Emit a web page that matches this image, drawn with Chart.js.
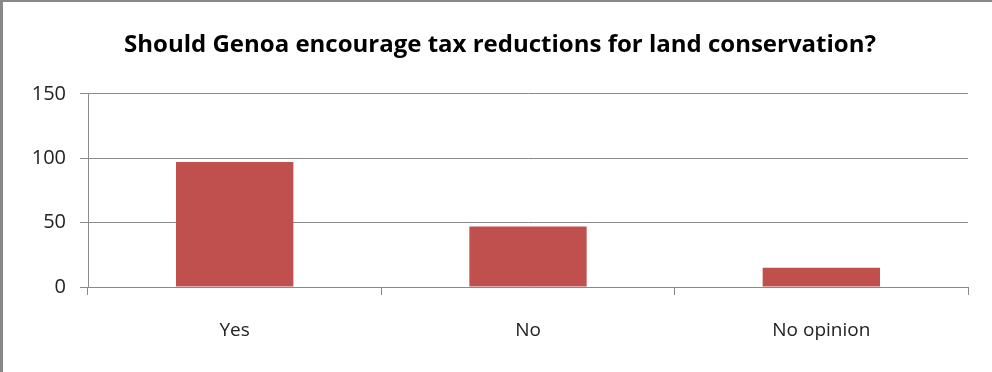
<!DOCTYPE html>
<html>
<head>
<meta charset="utf-8">
<script src="https://cdn.jsdelivr.net/npm/chart.js@4/dist/chart.umd.min.js"></script>
<style>
  html, body { margin: 0; padding: 0; background: #fff; }
  #wrap { position: relative; width: 992px; height: 372px; box-sizing: border-box;
          border-left: 3px solid #888; border-top: 2px solid #888; }
  #wrap canvas { position: absolute; left: -3px; top: -2px; }
</style>
</head>
<body>
<div id="wrap"><canvas id="chart" width="992" height="372"></canvas></div>
<script>
  var categories = ["Yes", "No", "No opinion"];
  var responses = [97, 47, 15];
  var yTicks = [0, 50, 100, 150];
  var chartTitle = "Should Genoa encourage tax reductions for land conservation?";

  var FONT = "'Open Sans', sans-serif";
  var GRID = "#8a8a8a";

  new Chart(document.getElementById("chart"), {
    type: "bar",
    data: {
      labels: categories,
      datasets: [{
        data: responses,
        backgroundColor: "#c0504d",
        borderWidth: 0,
        categoryPercentage: 1,
        barPercentage: 0.4
      }]
    },
    options: {
      responsive: false,
      animation: false,
      // left padding only shifts the centred title; axis width makes up the rest
      layout: { padding: { left: 32, right: 24, top: 0, bottom: 0 } },
      plugins: {
        legend: { display: false },
        tooltip: { enabled: false },
        title: {
          display: true,
          text: chartTitle,
          color: "#000",
          font: { family: FONT, size: 24, weight: "bold" },
          padding: { top: 31, bottom: 34 }
        }
      },
      scales: {
        y: {
          min: yTicks[0],
          max: yTicks[yTicks.length - 1],
          afterBuildTicks: function (scale) {
            scale.ticks = yTicks.map(function (v) { return { value: v }; });
          },
          afterFit: function (scale) { scale.width = 56; },
          border: { color: GRID, width: 1 },
          grid: { color: GRID, tickLength: 8 },
          ticks: { color: "#222", padding: 14, font: { family: FONT, size: 20 } }
        },
        x: {
          afterFit: function (scale) { scale.height = 85; },
          border: { color: GRID, width: 1 },
          grid: { color: GRID, offset: true, drawOnChartArea: false, tickLength: 8 },
          ticks: { color: "#222", padding: 24, font: { family: FONT, size: 19 } }
        }
      }
    }
  });
</script>
</body>
</html>
